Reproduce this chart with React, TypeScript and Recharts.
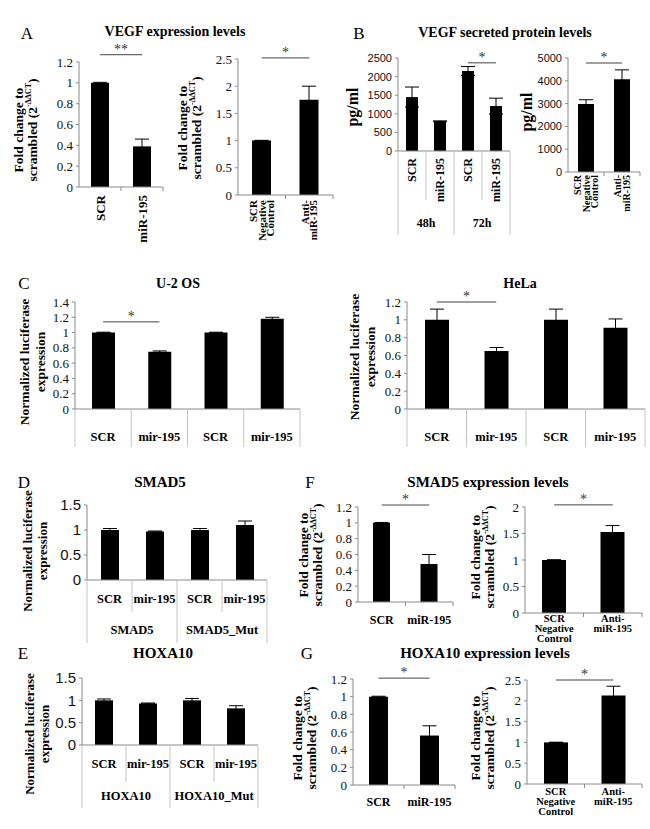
import React from 'react';
import { BarChart, Bar, XAxis, YAxis, ErrorBar, ReferenceLine } from 'recharts';

const SERIF = '"Liberation Serif", "Times New Roman", serif';
const SANS = '"Liberation Sans", Arial, sans-serif';
const AXIS = '#8a8a8a';
const GRID = '#c4c4c4';

// A: VEGF mRNA
const vegfCats = ['SCR', 'miR-195'];
const vegfVals = [1.0, 0.39];
const vegfErr = [0.005, 0.07];
const antiCats = ['SCR\nNegative\nControl', 'Anti-\nmiR-195'];
const vegfAntiVals = [1.0, 1.75];
const vegfAntiErr = [0.005, 0.25];

// B: VEGF ELISA
const elisaCats = ['SCR', 'miR-195', 'SCR', 'miR-195'];
const elisaGroups = ['48h', '72h'];
const elisaVals = [1450, 800, 2150, 1210];
const elisaErr = [270, 10, 120, 210];
const elisaAntiVals = [2980, 4070];
const elisaAntiErr = [190, 410];

// C: luciferase
const lucCats = ['SCR', 'mir-195', 'SCR', 'mir-195'];
const u2osVals = [1.0, 0.75, 1.0, 1.18];
const u2osErr = [0.005, 0.01, 0.005, 0.02];
const helaVals = [1.0, 0.65, 1.0, 0.91];
const helaErr = [0.12, 0.04, 0.12, 0.1];

// D, E: luciferase SMAD5 / HOXA10
const smad5Groups = ['SMAD5', 'SMAD5_Mut'];
const smad5LucVals = [1.0, 0.97, 1.0, 1.1];
const smad5LucErr = [0.03, 0.01, 0.03, 0.08];
const hoxa10Groups = ['HOXA10', 'HOXA10_Mut'];
const hoxa10LucVals = [1.0, 0.93, 1.0, 0.82];
const hoxa10LucErr = [0.03, 0.01, 0.04, 0.06];

// F, G: mRNA SMAD5 / HOXA10
const mirCats = ['SCR', 'miR-195'];
const smad5Vals = [1.0, 0.48];
const smad5Err = [0.005, 0.12];
const smad5AntiVals = [1.0, 1.53];
const smad5AntiErr = [0.005, 0.12];
const hoxa10Vals = [1.0, 0.56];
const hoxa10Err = [0.005, 0.11];
const hoxa10AntiVals = [1.0, 2.13];
const hoxa10AntiErr = [0.005, 0.22];

const ticks12 = [0, 0.2, 0.4, 0.6, 0.8, 1, 1.2];
const ticks14 = [0, 0.2, 0.4, 0.6, 0.8, 1, 1.2, 1.4];
const ticks15 = [0, 0.5, 1, 1.5];
const ticks20 = [0, 0.5, 1, 1.5, 2];
const ticks25 = [0, 0.5, 1, 1.5, 2, 2.5];
const ticksPg = [0, 500, 1000, 1500, 2000, 2500];
const ticksPgAnti = [0, 1000, 2000, 3000, 4000, 5000];

const LEFT_W = 50;
const TOP_PAD = 26;
const RIGHT_PAD = 3;

type Sig = { from: number; to: number; y: number; mark: string };

type PanelProps = {
  x0: number;
  x1: number;
  yTop: number;
  y0: number;
  max: number;
  ticks: number[];
  cats: string[];
  vals: number[];
  errs: number[];
  barSize: number;
  tickFont?: string;
  tickFs?: number;
  mode: 'rot' | 'plain';
  labelFs?: number;
  labelOff: number;
  lineGap?: number;
  groups?: string[];
  shortLen?: number;
  longLen?: number;
  groupOff?: number;
  sig?: Sig;
  bottomH?: number;
};

function Panel(p: PanelProps) {
  const n = p.cats.length;
  const cw = (p.x1 - p.x0) / n;
  const bottomH = p.bottomH ?? 95;
  const axisY = TOP_PAD + (p.y0 - p.yTop);
  const width = LEFT_W + (p.x1 - p.x0) + RIGHT_PAD;
  const height = axisY + bottomH;
  const data = p.cats.map((c, i) => ({ key: 'k' + i, v: p.vals[i], e: p.errs[i] }));
  const fs = p.labelFs ?? 12;
  const lg = p.lineGap ?? fs;

  const renderTick = (t: any) => {
    const i = Number(String(t.payload.value).slice(1));
    const x = t.x;
    const lines = p.cats[i].split('\n');
    const parts: React.ReactNode[] = [];
    if (p.mode === 'rot') {
      parts.push(
        <text
          key="l"
          transform={`translate(${x},${axisY + p.labelOff}) rotate(-90)`}
          textAnchor="end"
          fontFamily={SERIF}
          fontWeight="bold"
          fontSize={fs}
          fill="#000"
        >
          {lines.map((l, j) => (
            <tspan key={j} x={0} y={(j - (lines.length - 1) / 2) * lg} dy="0.35em">
              {l}
            </tspan>
          ))}
        </text>
      );
    } else {
      parts.push(
        <text key="l" textAnchor="middle" fontFamily={SERIF} fontWeight="bold" fontSize={fs} fill="#000">
          {lines.map((l, j) => (
            <tspan key={j} x={x} y={axisY + p.labelOff + j * lg} dy="0.35em">
              {l}
            </tspan>
          ))}
        </text>
      );
    }
    if (p.longLen) {
      const long = p.longLen;
      const short = p.groups ? p.shortLen ?? long : long;
      parts.push(
        <line key="a" x1={x - cw / 2} x2={x - cw / 2} y1={axisY} y2={axisY + (i % 2 === 0 ? long : short)} stroke={GRID} />
      );
      if (i === n - 1) {
        parts.push(<line key="b" x1={x + cw / 2} x2={x + cw / 2} y1={axisY} y2={axisY + long} stroke={GRID} />);
      }
      if (p.groups && i % 2 === 0) {
        parts.push(
          <text
            key="g"
            x={x + cw / 2}
            y={axisY + (p.groupOff ?? 50)}
            dy="0.35em"
            textAnchor="middle"
            fontFamily={SERIF}
            fontWeight="bold"
            fontSize={fs}
            fill="#000"
          >
            {p.groups[i / 2]}
          </text>
        );
      }
    } else {
      parts.push(<line key="t" x1={x + cw / 2} x2={x + cw / 2} y1={axisY} y2={axisY + 4} stroke={AXIS} />);
    }
    return <g>{parts}</g>;
  };

  return (
    <div style={{ position: 'absolute', left: p.x0 - LEFT_W, top: p.yTop - TOP_PAD }}>
      <BarChart width={width} height={height} data={data} margin={{ top: TOP_PAD, right: RIGHT_PAD, left: 0, bottom: 0 }}>
        <XAxis
          dataKey="key"
          type="category"
          height={bottomH}
          interval={0}
          tickLine={false}
          tickSize={0}
          tickMargin={0}
          axisLine={{ stroke: AXIS }}
          tick={renderTick}
        />
        <YAxis
          type="number"
          domain={[0, p.max]}
          ticks={p.ticks}
          interval={0}
          width={LEFT_W}
          tickSize={3}
          tickMargin={3}
          tickLine={{ stroke: AXIS }}
          axisLine={{ stroke: AXIS }}
          tick={{ fontSize: p.tickFs ?? 13, fontFamily: p.tickFont ?? SERIF, fill: '#111' }}
        />
        <Bar dataKey="v" fill="#000" barSize={p.barSize} isAnimationActive={false}>
          <ErrorBar dataKey="e" width={7} stroke="#000" strokeWidth={1} direction="y" />
        </Bar>
        {p.sig && (
          <ReferenceLine
            segment={[
              { x: 'k' + p.sig.from, y: p.sig.y },
              { x: 'k' + p.sig.to, y: p.sig.y },
            ]}
            stroke="#444"
            ifOverflow="visible"
            label={{ value: p.sig.mark, position: 'top', offset: 1, fill: '#333', fontSize: 14, fontFamily: SERIF }}
          />
        )}
      </BarChart>
    </div>
  );
}

function Txt(props: { x: number; y: number; size: number; bold?: boolean; rot?: boolean; lh?: number; children: React.ReactNode }) {
  return (
    <div
      style={{
        position: 'absolute',
        left: props.x,
        top: props.y,
        transform: `translate(-50%,-50%)${props.rot ? ' rotate(-90deg)' : ''}`,
        fontFamily: SERIF,
        fontWeight: props.bold ? 'bold' : 'normal',
        fontSize: props.size,
        lineHeight: `${props.lh ?? props.size + 2}px`,
        whiteSpace: 'nowrap',
        textAlign: 'center',
        color: '#000',
      }}
    >
      {props.children}
    </div>
  );
}

const sup = { fontSize: '0.6em', verticalAlign: '0.7em', lineHeight: 0 };

function FoldLabel(props: { x: number; y: number; size?: number }) {
  return (
    <Txt x={props.x} y={props.y} size={props.size ?? 13.5} bold rot lh={14}>
      Fold change to
      <br />
      scrambled (2<span style={sup}>-ΔΔCT</span>)
    </Txt>
  );
}

function LucLabel(props: { x: number; y: number; size: number; lh: number }) {
  return (
    <Txt x={props.x} y={props.y} size={props.size} bold rot lh={props.lh}>
      Normalized luciferase
      <br />
      expression
    </Txt>
  );
}

export default function App() {
  return (
    <div
      style={{
        position: 'absolute',
        left: 0,
        top: 0,
        width: 650,
        height: 829,
        background: '#fff',
        overflow: 'hidden',
      }}
    >
      {/* panel A */}
      <Txt x={27} y={33} size={17}>A</Txt>
      <Txt x={175} y={32} size={14} bold>VEGF expression levels</Txt>
      <FoldLabel x={26} y={130} />
      <FoldLabel x={190} y={128} />
      <Panel x0={79} x1={163} yTop={62} y0={187} max={1.2} ticks={ticks12} cats={vegfCats} vals={vegfVals} errs={vegfErr}
        barSize={18} mode="rot" labelFs={13} labelOff={8} sig={{ from: 0, to: 1, y: 1.27, mark: '**' }} />
      <Panel x0={238} x1={333} yTop={59} y0={195} max={2.5} ticks={ticks25} cats={antiCats} vals={vegfAntiVals} errs={vegfAntiErr}
        barSize={19} mode="rot" labelFs={11} lineGap={8.5} labelOff={5} sig={{ from: 0, to: 1, y: 2.52, mark: '*' }} />

      {/* panel B */}
      <Txt x={359} y={33} size={17}>B</Txt>
      <Txt x={505} y={33} size={14} bold>VEGF secreted protein levels</Txt>
      <Txt x={353} y={107} size={16} bold rot>pg/ml</Txt>
      <Txt x={527} y={112} size={16} bold rot>pg/ml</Txt>
      <Panel x0={398} x1={510} yTop={58} y0={151} max={2500} ticks={ticksPg} cats={elisaCats} vals={elisaVals} errs={elisaErr}
        barSize={12} tickFont={SANS} tickFs={11} mode="rot" labelFs={12} labelOff={7}
        groups={elisaGroups} shortLen={49} longLen={84} groupOff={72} sig={{ from: 2, to: 3, y: 2370, mark: '*' }} />
      <Panel x0={568} x1={640} yTop={58} y0={172} max={5000} ticks={ticksPgAnti} cats={antiCats} vals={elisaAntiVals} errs={elisaAntiErr}
        barSize={16} tickFont={SANS} tickFs={11} mode="rot" labelFs={10} lineGap={8.5} labelOff={3}
        sig={{ from: 0, to: 1, y: 4780, mark: '*' }} />

      {/* panel C */}
      <Txt x={24} y={283} size={17}>C</Txt>
      <Txt x={178} y={284} size={14} bold>U-2 OS</Txt>
      <Txt x={520} y={284} size={14} bold>HeLa</Txt>
      <LucLabel x={33} y={362} size={13.5} lh={16} />
      <LucLabel x={363} y={357} size={13.5} lh={16} />
      <Panel x0={75} x1={300} yTop={302} y0={409} max={1.4} ticks={ticks14} cats={lucCats} vals={u2osVals} errs={u2osErr}
        barSize={23} mode="plain" labelFs={12.5} labelOff={28} longLen={38} sig={{ from: 0, to: 1, y: 1.14, mark: '*' }} />
      <Panel x0={407} x1={645} yTop={302} y0={409} max={1.2} ticks={ticks12} cats={lucCats} vals={helaVals} errs={helaErr}
        barSize={24} mode="plain" labelFs={12.5} labelOff={28} longLen={38} sig={{ from: 0, to: 1, y: 1.2, mark: '*' }} />

      {/* panel D */}
      <Txt x={24} y={482} size={17}>D</Txt>
      <Txt x={160} y={482} size={15} bold>SMAD5</Txt>
      <LucLabel x={35} y={551} size={13} lh={15} />
      <Panel x0={87} x1={267} yTop={505} y0={580} max={1.5} ticks={ticks15} cats={lucCats} vals={smad5LucVals} errs={smad5LucErr}
        barSize={18} tickFont={SANS} tickFs={15} mode="plain" labelFs={12.5} labelOff={19}
        groups={smad5Groups} shortLen={32} longLen={63} groupOff={50} bottomH={70} />

      {/* panel E */}
      <Txt x={23} y={653} size={17}>E</Txt>
      <Txt x={163} y={653} size={15} bold>HOXA10</Txt>
      <LucLabel x={37} y={734} size={13} lh={15} />
      <Panel x0={82} x1={258} yTop={678} y0={745} max={1.5} ticks={ticks15} cats={lucCats} vals={hoxa10LucVals} errs={hoxa10LucErr}
        barSize={18} tickFont={SANS} tickFs={15} mode="plain" labelFs={12.5} labelOff={19}
        groups={hoxa10Groups} shortLen={37} longLen={63} groupOff={51} bottomH={70} />

      {/* panel F */}
      <Txt x={310} y={482} size={17}>F</Txt>
      <Txt x={488} y={482} size={15} bold>SMAD5 expression levels</Txt>
      <FoldLabel x={311} y={555} />
      <FoldLabel x={483} y={557} />
      <Panel x0={358} x1={453} yTop={507} y0={602} max={1.2} ticks={ticks12} cats={mirCats} vals={smad5Vals} errs={smad5Err}
        barSize={17} mode="plain" labelFs={12} labelOff={18} bottomH={45} sig={{ from: 0, to: 1, y: 1.225, mark: '*' }} />
      <Panel x0={525} x1={642} yTop={507} y0={613} max={2} ticks={ticks20} cats={antiCats} vals={smad5AntiVals} errs={smad5AntiErr}
        barSize={24} mode="plain" labelFs={10.5} lineGap={10} labelOff={5} bottomH={34} sig={{ from: 0, to: 1, y: 2.04, mark: '*' }} />

      {/* panel G */}
      <Txt x={307} y={653} size={17}>G</Txt>
      <Txt x={485} y={653} size={15} bold>HOXA10 expression levels</Txt>
      <FoldLabel x={305} y={738} />
      <FoldLabel x={483} y={738} />
      <Panel x0={353} x1={455} yTop={679} y0={785} max={1.2} ticks={ticks12} cats={mirCats} vals={hoxa10Vals} errs={hoxa10Err}
        barSize={19} mode="plain" labelFs={12} labelOff={17} bottomH={40} sig={{ from: 0, to: 1, y: 1.21, mark: '*' }} />
      <Panel x0={527} x1={642} yTop={680} y0={784} max={2.5} ticks={ticks25} cats={antiCats} vals={hoxa10AntiVals} errs={hoxa10AntiErr}
        barSize={24} mode="plain" labelFs={10.5} lineGap={10} labelOff={7} bottomH={40} sig={{ from: 0, to: 1, y: 2.5, mark: '*' }} />
    </div>
  );
}
